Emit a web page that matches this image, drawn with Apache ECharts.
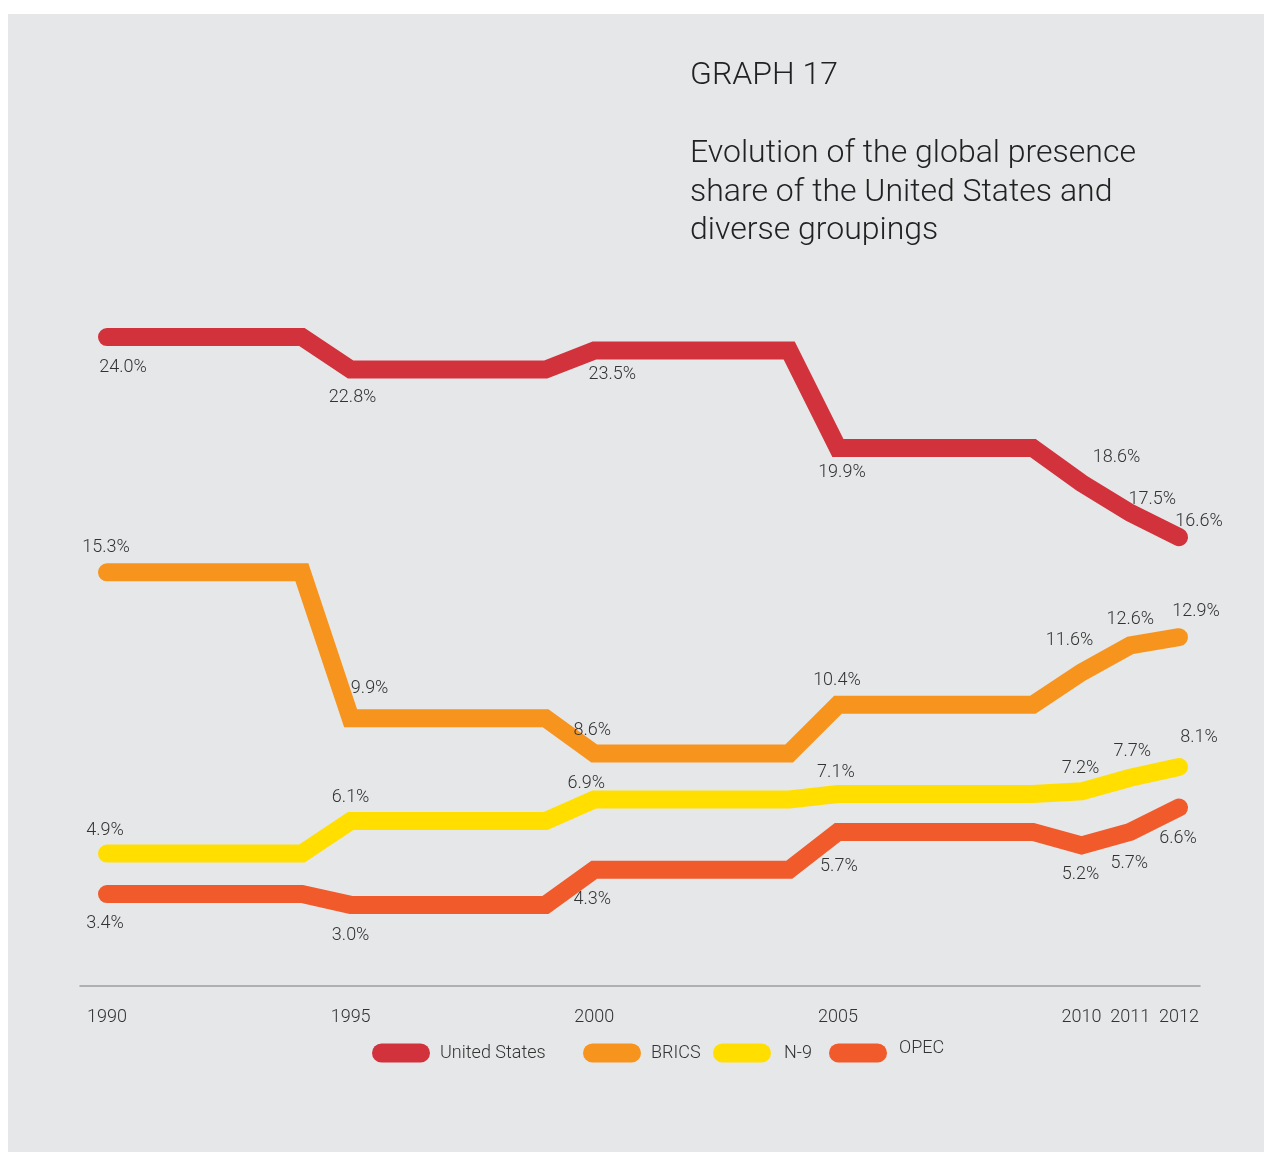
<!DOCTYPE html>
<html>
<head>
<meta charset="utf-8">
<script src="https://cdn.jsdelivr.net/npm/echarts@6/dist/echarts.min.js"></script>
<style>
  html, body { margin: 0; padding: 0; background: #ffffff; }
  #chart { width: 1264px; height: 1152px; }
</style>
</head>
<body>
<div id="chart"></div>
<script>
// ---- Data ----
const years = [1990, 1991, 1992, 1993, 1994, 1995, 1996, 1997, 1998, 1999, 2000, 2001,
               2002, 2003, 2004, 2005, 2006, 2007, 2008, 2009, 2010, 2011, 2012];
const usValues    = [24.0, 24.0, 24.0, 24.0, 24.0, 22.8, 22.8, 22.8, 22.8, 22.8, 23.5, 23.5,
                     23.5, 23.5, 23.5, 19.9, 19.9, 19.9, 19.9, 19.9, 18.6, 17.5, 16.6];
const bricsValues = [15.3, 15.3, 15.3, 15.3, 15.3, 9.9, 9.9, 9.9, 9.9, 9.9, 8.6, 8.6,
                     8.6, 8.6, 8.6, 10.4, 10.4, 10.4, 10.4, 10.4, 11.6, 12.6, 12.9];
const n9Values    = [4.9, 4.9, 4.9, 4.9, 4.9, 6.1, 6.1, 6.1, 6.1, 6.1, 6.9, 6.9,
                     6.9, 6.9, 6.9, 7.1, 7.1, 7.1, 7.1, 7.1, 7.2, 7.7, 8.1];
const opecValues  = [3.4, 3.4, 3.4, 3.4, 3.4, 3.0, 3.0, 3.0, 3.0, 3.0, 4.3, 4.3,
                     4.3, 4.3, 4.3, 5.7, 5.7, 5.7, 5.7, 5.7, 5.2, 5.7, 6.6];
const seriesNames = ['United States', 'BRICS', 'N-9', 'OPEC'];
const labelYears  = [1990, 1995, 2000, 2005, 2010, 2011, 2012];
const tickLabels  = [1990, 1995, 2000, 2005, 2010, 2011, 2012];

// ---- Styling / layout (kept apart from data) ----
const colors = ['#d1323c', '#f7941e', '#ffde00', '#f15a2b'];
// label offsets [dx, dy] from the point, one per label year
const labelOffsets = {
  'United States': [[16, 29], [2, 26], [18, 22], [4, 23], [35, -27], [22, -15], [20, -17]],
  'BRICS':         [[-1, -26], [19, -31], [-2, -24], [-1, -26], [-12, -33], [0, -27], [17, -27]],
  'N-9':           [[-2, -25], [0, -25], [-8, -17], [-2, -23], [-1, -24], [2, -28], [20, -31]],
  'OPEC':          [[-2, 28], [0, 29], [-2, 28], [1, 33], [-1, 28], [-1, 30], [-1, 29]]
};
const LABEL_DY = 1.5;
const FONT = 'Roboto, "Noto Sans", sans-serif';
const TEXT_COLOR = '#333333';

function buildData(name, values) {
  return years.map((y, i) => {
    const li = labelYears.indexOf(y);
    const item = { value: [y, values[i]] };
    if (li >= 0) {
      const o = labelOffsets[name][li];
      item.label = { show: true, offset: [o[0], o[1] + LABEL_DY] };
    } else {
      item.label = { show: false };
    }
    return item;
  });
}

const allValues = [usValues, bricsValues, n9Values, opecValues];

const series = seriesNames.map((name, k) => ({
  name: name,
  type: 'line',
  data: buildData(name, allValues[k]),
  color: colors[k],
  symbol: 'circle',
  symbolSize: 1,
  showSymbol: true,
  itemStyle: { color: colors[k] },
  lineStyle: { width: 18, color: colors[k], cap: 'round', join: 'miter' },
  label: {
    show: false,
    position: 'inside',
    formatter: p => p.value[1].toFixed(1) + '%',
    fontFamily: FONT,
    fontSize: 18,
    fontWeight: 300,
    color: TEXT_COLOR
  },
  emphasis: { disabled: true },
  silent: true,
  z: 2 + k
}));

const pill = 'path://M9.5,0 L48.5,0 A9.5,9.5 0 0 1 48.5,19 L9.5,19 A9.5,9.5 0 0 1 9.5,0 Z';
const legendLefts = [372, 583, 713, 829];
const legendTops = [1043.5, 1043.5, 1043.5, 1039];
const legendTextPad = [[0, 0, 0, 5], [0, 0, 0, 5], [0, 0, 0, 8], [0, 0, 0, 7]];
const legendRaise = [0, 0, 0, 10];
const legends = seriesNames.map((name, k) => ({
  data: [name],
  left: legendLefts[k],
  top: legendTops[k],
  padding: 0,
  itemWidth: 58,
  itemHeight: 19,
  icon: pill,
  selectedMode: false,
  itemStyle: { borderWidth: 0 },
  formatter: n => '{t|' + n + '}',
  textStyle: {
    fontFamily: FONT, fontSize: 18, fontWeight: 300, color: TEXT_COLOR,
    padding: legendTextPad[k],
    rich: {
      t: { fontFamily: FONT, fontSize: 18, fontWeight: 300, color: TEXT_COLOR,
           padding: [0, 0, legendRaise[k], 0] }
    }
  }
}));

const chart = echarts.init(document.getElementById('chart'), null, { renderer: 'canvas' });
const pxPerYear = (1179 - 107) / 22;
chart.setOption({
  animation: false,
  backgroundColor: '#ffffff',
  graphic: [
    { type: 'rect', left: 8, top: 14, z: -10, silent: true,
      shape: { width: 1256, height: 1138 }, style: { fill: '#e6e7e8' } },
    { type: 'text', left: 690, top: 60, z: 10,
      style: { text: 'GRAPH 17', fontFamily: FONT, fontSize: 32, fontWeight: 300,
               fill: '#222222', lineHeight: 32 } },
    { type: 'text', left: 690, top: 135, z: 10,
      style: { text: 'Evolution of the global presence\nshare of the United States and\ndiverse groupings',
               fontFamily: FONT, fontSize: 32, fontWeight: 300, fill: '#222222', lineHeight: 38.5 } }
  ],
  legend: legends,
  grid: { left: 80, right: 64, top: 283, bottom: 166, containLabel: false },
  xAxis: {
    type: 'value',
    min: 1990 - 27 / pxPerYear,
    max: 2012 + 21 / pxPerYear,
    axisLine: { show: true, onZero: false, lineStyle: { color: '#9d9fa2', width: 1.5 } },
    axisTick: { show: false },
    splitLine: { show: false },
    axisLabel: {
      customValues: tickLabels,
      formatter: v => String(Math.round(v)),
      fontFamily: FONT, fontSize: 18, fontWeight: 300, color: TEXT_COLOR, margin: 22
    }
  },
  yAxis: {
    type: 'value',
    min: 0,
    max: 26,
    show: false,
    splitLine: { show: false }
  },
  series: series
});
</script>
</body>
</html>
